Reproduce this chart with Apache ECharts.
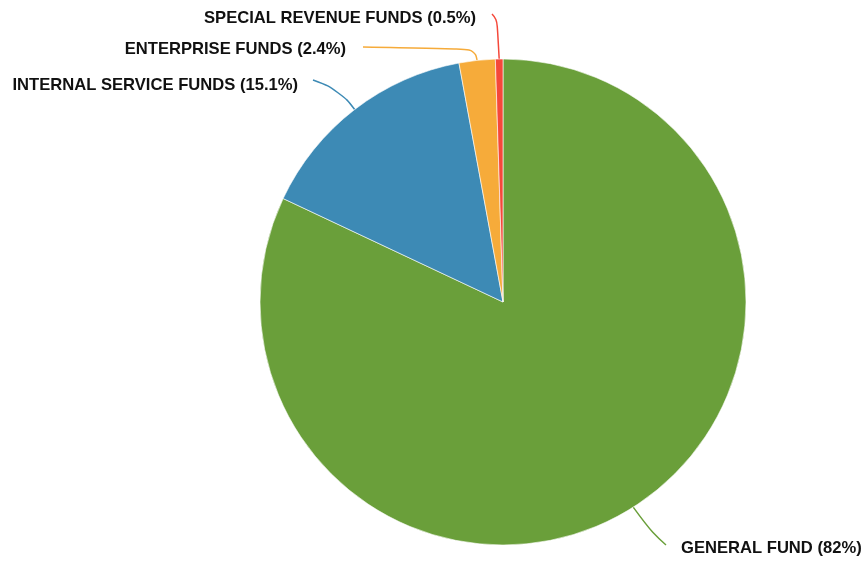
<!DOCTYPE html>
<html>
<head>
<meta charset="utf-8">
<script src="https://cdn.jsdelivr.net/npm/echarts@6/dist/echarts.min.js"></script>
<style>
  html, body { margin: 0; padding: 0; background: #fff; }
  #chart { width: 864px; height: 561px; }
</style>
</head>
<body>
<div id="chart"></div>
<script>
// fund shares (percent)
var funds = ['GENERAL FUND', 'INTERNAL SERVICE FUNDS', 'ENTERPRISE FUNDS', 'SPECIAL REVENUE FUNDS'];
var shares = [82, 15.1, 2.4, 0.5];
var colors = ['#6a9f3a', '#3d8ab5', '#f6ab3a', '#f5483a'];

// where each label sits (text anchor + bend point + end of line)
var labelSpots = [
    { x: 681, y: 548, align: 'left', bend: [652, 533], end: [666, 545] },
    { x: 298, y: 85, align: 'right', bend: [340, 90], end: [313, 80] },
    { x: 346, y: 49, align: 'right', bend: [475, 49], end: [363, 47] },
    { x: 476, y: 18, align: 'right', bend: [497, 19], end: [492, 14] }
];

var chart = echarts.init(document.getElementById('chart'), null, { renderer: 'canvas' });

var pieData = funds.map(function (name, i) {
    return { name: name, value: shares[i], itemStyle: { color: colors[i] }, labelLine: { lineStyle: { color: colors[i] } } };
});

chart.setOption({
    animation: false,
    series: [
        {
            type: 'pie',
            center: [503, 302],
            radius: [0, 243],
            startAngle: 90,
            clockwise: true,
            percentPrecision: 1,
            data: pieData,
            itemStyle: {
                borderColor: '#fff',
                borderWidth: 0.6
            },
            label: {
                show: true,
                color: '#111',
                fontFamily: 'Liberation Sans, Arial, sans-serif',
                fontWeight: 'bold',
                fontSize: 16.6,
                overflow: 'none',
                formatter: function (p) {
                    return p.name + ' (' + p.percent + '%)';
                }
            },
            labelLine: {
                show: true,
                smooth: 0.5,
                lineStyle: { width: 1.5 }
            },
            labelLayout: function (params) {
                var s = labelSpots[params.dataIndex];
                var start = params.labelLinePoints ? params.labelLinePoints[0] : s.bend;
                return {
                    x: s.x,
                    y: s.y,
                    align: s.align,
                    verticalAlign: 'middle',
                    labelLinePoints: [start, s.bend, s.end]
                };
            }
        }
    ]
});
</script>
</body>
</html>
